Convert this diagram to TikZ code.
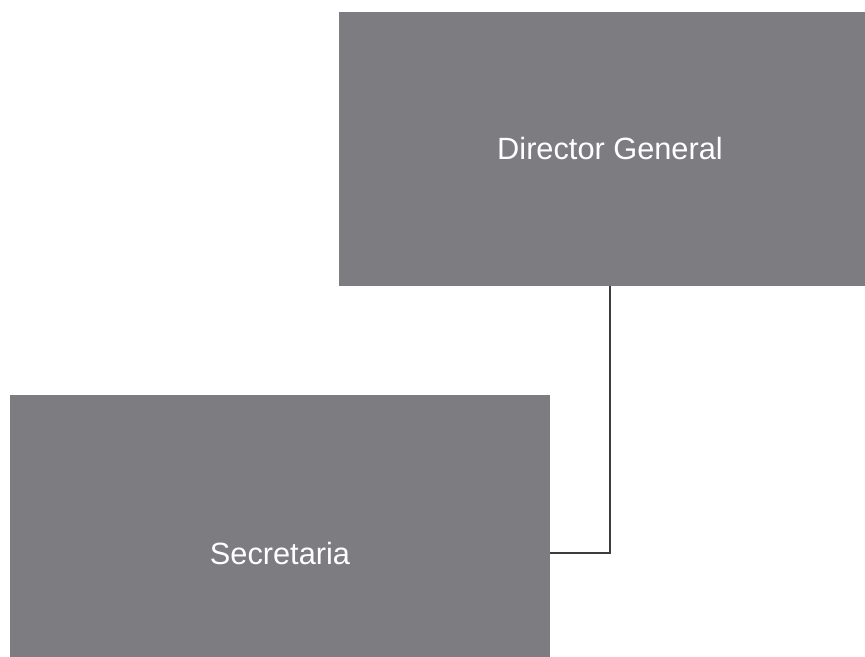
\documentclass[tikz,border=0pt]{standalone}
\usepackage{fontspec}
\setmainfont{Liberation Sans}
\definecolor{scangray}{RGB}{124,124,129}
\definecolor{linegray}{RGB}{60,60,64}
\begin{document}
\begin{tikzpicture}[x=0.02cm, y=-0.02cm, orgbox/.style={rectangle, fill=scangray, text=white, inner sep=0pt, font=\fontsize{17.5}{20}\selectfont}]
\useasboundingbox (0,0) rectangle (865,656);
\clip (0,0) rectangle (865,656);
\node[orgbox, minimum width=10.84cm, minimum height=5.48cm] (dg) at (610,149) {Director General};
\node[orgbox, minimum width=10.8cm, minimum height=6.32cm] (sec) at (280,553) {Secretaria};
\draw[linegray, line width=0.9pt] (dg.south) |- (sec.east);
\end{tikzpicture}
\end{document}
